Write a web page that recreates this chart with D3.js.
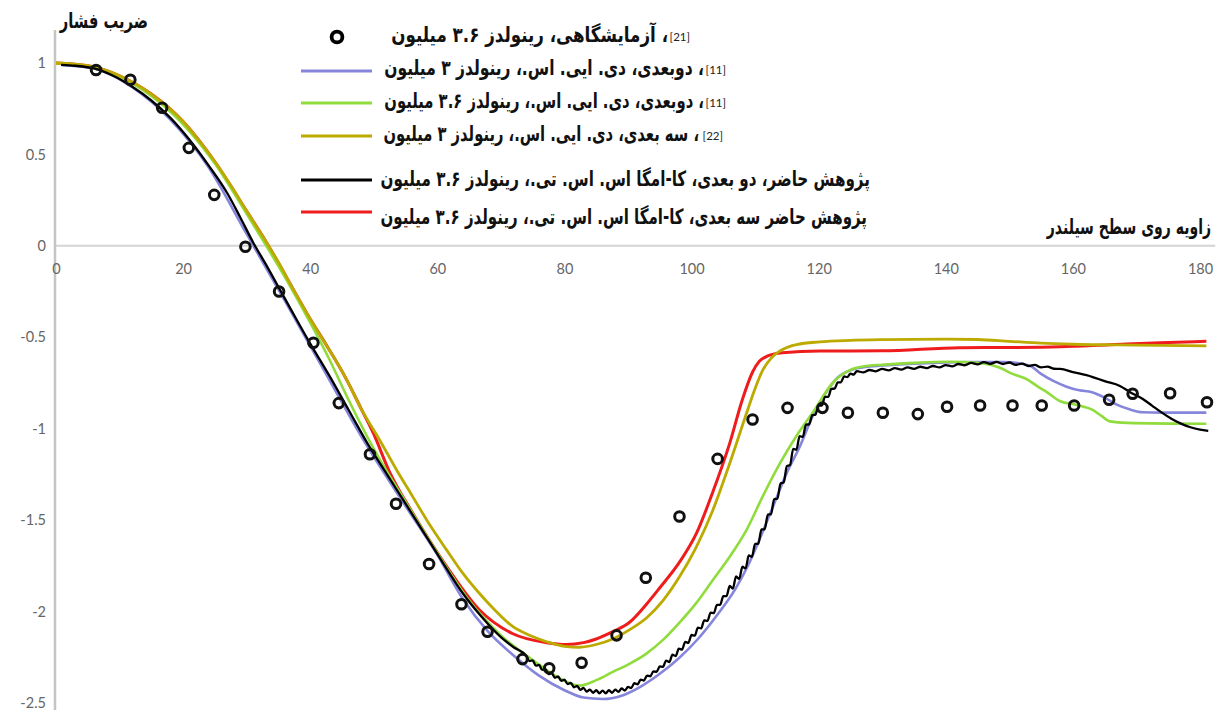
<!DOCTYPE html>
<html><head><meta charset="utf-8">
<script src="https://cdn.jsdelivr.net/npm/d3@7"></script>
<style>body{margin:0;background:#fff}svg{display:block}</style>
</head><body>
<svg id="c" width="1222" height="713"></svg>
<script>
// ---------------- data ----------------
const xTicks = [0, 20, 40, 60, 80, 100, 120, 140, 160, 180];
const yTicks = [1, 0.5, 0, -0.5, -1, -1.5, -2, -2.5];

const yTitle = "ضریب فشار";
const xTitle = "زاویه روی سطح سیلندر";

const legendRefs = ["[21]", "[11]", "[11]", "[22]", null, null];
const legendLabels = [
  "، آزمایشگاهی، رینولدز ۳.۶ میلیون",
  "، دوبعدی، دی. ایی. اس.، رینولدز ۳ میلیون",
  "، دوبعدی، دی. ایی. اس.، رینولدز ۳.۶ میلیون",
  " ، سه بعدی، دی. ایی. اس.، رینولدز ۳ میلیون",
  "پژوهش حاضر،  دو بعدی، کا-امگا اس. اس. تی.، رینولدز ۳.۶ میلیون",
  "پژوهش حاضر سه بعدی، کا-امگا اس. اس. تی.، رینولدز ۳.۶ میلیون"
];

// experiment (circles)
const expDeg = [6.3, 11.7, 16.7, 20.9, 24.9, 29.8, 35.1, 40.5, 44.5, 49.4, 53.5, 58.7, 63.8, 67.9, 73.4, 77.6, 82.7, 88.2, 92.8, 98.1, 104.1, 109.6, 115.1, 120.6, 124.6, 130.1, 135.6, 140.2, 145.4, 150.5, 155.1, 160.2, 165.7, 169.4, 175.3, 181.1];
const expCp = [0.962, 0.908, 0.755, 0.536, 0.279, -0.005, -0.25, -0.53, -0.86, -1.14, -1.41, -1.74, -1.96, -2.11, -2.26, -2.31, -2.28, -2.13, -1.815, -1.48, -1.165, -0.95, -0.886, -0.886, -0.913, -0.913, -0.92, -0.88, -0.873, -0.873, -0.873, -0.873, -0.842, -0.809, -0.806, -0.855];

// 2D DES Re 3M [11] (blue)
const blueCurve = [[0.8,0.99],[6,0.97],[12,0.868],[18,0.69],[24,0.43],[30,0.065],[36,-0.30],[42,-0.67],[48,-1.04],[54,-1.37],[60,-1.69],[64,-1.93],[68,-2.11],[72,-2.24],[76,-2.35],[80,-2.43],[83,-2.47],[86,-2.478],[89,-2.46],[92,-2.41],[95,-2.34],[98,-2.255],[101,-2.15],[104,-2.02],[107,-1.87],[109,-1.74],[111,-1.58],[113,-1.41],[115,-1.24],[117,-1.10],[119,-0.935],[121,-0.81],[123,-0.72],[125,-0.68],[128,-0.66],[132,-0.65],[138,-0.64],[144,-0.635],[149,-0.635],[152,-0.645],[153.5,-0.66],[155,-0.70],[157,-0.74],[159,-0.77],[161,-0.79],[163,-0.80],[165,-0.83],[167,-0.87],[169,-0.895],[171,-0.91],[174,-0.912],[181,-0.912]];

// 2D DES Re 3.6M [11] (green)
const greenCurve = [[0,1.0],[5,0.98],[10,0.925],[15,0.82],[20,0.665],[25,0.45],[30,0.175],[33,0.005],[36,-0.17],[40,-0.42],[43,-0.62],[46,-0.84],[50,-1.11],[55,-1.40],[60,-1.68],[65,-1.94],[70,-2.13],[75,-2.265],[79,-2.36],[82.4,-2.405],[85,-2.375],[87.6,-2.33],[90,-2.29],[92.9,-2.23],[95.5,-2.155],[98.1,-2.06],[100.7,-1.955],[103.3,-1.83],[106,-1.70],[108.7,-1.55],[111.2,-1.37],[113.9,-1.19],[116.5,-1.04],[119.1,-0.91],[122.2,-0.75],[124.9,-0.68],[127,-0.66],[130,-0.65],[135,-0.64],[140.6,-0.634],[145,-0.64],[147,-0.65],[148.5,-0.667],[150.5,-0.70],[152.8,-0.73],[154.5,-0.77],[155.9,-0.80],[158,-0.85],[160.6,-0.87],[163.1,-0.897],[164.5,-0.93],[165.8,-0.96],[168.5,-0.968],[181,-0.973]];

// 3D DES Re 3M [22] (olive)
const yellowCurve = [[0,1.0],[5,0.985],[10,0.93],[15,0.83],[20,0.68],[22.5,0.575],[25,0.46],[27.7,0.32],[30,0.19],[33.1,0.02],[35,-0.09],[37.2,-0.23],[40,-0.40],[42.5,-0.54],[45.7,-0.73],[48,-0.89],[50.9,-1.06],[53.5,-1.22],[56.1,-1.37],[58.7,-1.52],[61.4,-1.66],[64,-1.79],[66.6,-1.90],[69,-1.99],[71.8,-2.08],[74.5,-2.13],[77.2,-2.165],[80,-2.19],[82.4,-2.195],[85,-2.18],[87.6,-2.15],[90.2,-2.10],[92.9,-2.035],[95.5,-1.94],[98.1,-1.81],[100.7,-1.65],[103.3,-1.45],[106,-1.19],[108.7,-0.91],[110,-0.78],[111.2,-0.68],[112.5,-0.615],[113.9,-0.575],[116.5,-0.54],[120.2,-0.525],[125,-0.517],[130,-0.513],[140,-0.51],[145,-0.512],[150,-0.522],[155,-0.532],[160,-0.538],[170,-0.543],[181,-0.547]];

// present study 3D k-omega SST (red)
const redCurve = [[0,1.0],[5,0.985],[10,0.93],[15,0.83],[20,0.68],[25,0.46],[30,0.19],[33.1,0.02],[37.2,-0.23],[40,-0.40],[42.5,-0.54],[45.7,-0.73],[48,-0.89],[50,-1.03],[52.4,-1.23],[56.1,-1.46],[61.4,-1.75],[66.6,-1.99],[71.8,-2.12],[77.2,-2.17],[80.3,-2.18],[83,-2.17],[85,-2.15],[87.6,-2.11],[90.2,-2.06],[92.9,-1.96],[95,-1.87],[98.1,-1.73],[100.8,-1.57],[103.3,-1.35],[106,-1.08],[108,-0.84],[109.6,-0.69],[110.7,-0.63],[111.8,-0.605],[114.3,-0.585],[120.2,-0.575],[130,-0.574],[142.2,-0.557],[150,-0.556],[158,-0.552],[165.8,-0.541],[173.7,-0.53],[181,-0.522]];

// present study 2D k-omega SST (black, with its small oscillations)
const blackCurve = [[0.8,0.99],[3,0.985],[6,0.97],[9,0.93],[12,0.87],[15,0.795],[18,0.70],[21,0.58],[24,0.44],[27,0.285],[29,0.155],[31,0.02],[33,-0.10],[35,-0.225],[37,-0.35],[40,-0.535],[43,-0.71],[46,-0.895],[49,-1.08],[52,-1.245],[55,-1.41],[58,-1.575],[61,-1.74],[64,-1.90],[67,-2.03],[70,-2.14],[72,-2.195],
[74,-2.242],[74.5,-2.271],[75,-2.267],[75.5,-2.296],[76,-2.292],[76.5,-2.319],[77,-2.315],[77.5,-2.342],[78,-2.337],[78.5,-2.362],[79,-2.355],[79.5,-2.379],[80,-2.372],[80.5,-2.397],[81,-2.390],[81.5,-2.414],[82,-2.407],[82.5,-2.428],[83,-2.417],[83.5,-2.438],[84,-2.427],[84.5,-2.444],[85,-2.430],[85.5,-2.447],[86,-2.432],[86.5,-2.447],[87,-2.430],[87.5,-2.444],[88,-2.427],[88.5,-2.439],[89,-2.420],[89.5,-2.432],[90,-2.412],[90.5,-2.418],[91,-2.392],[91.5,-2.398],[92,-2.372],[92.5,-2.377],[93,-2.350],[93.5,-2.354],[94,-2.327],[94.5,-2.329],[95,-2.300],[95.5,-2.302],[96,-2.268],[96.5,-2.276],[97,-2.236],[97.5,-2.243],[98,-2.203],[98.5,-2.208],[99,-2.166],[99.5,-2.171],[100,-2.128],[100.5,-2.132],[101,-2.088],[101.5,-2.092],[102,-2.048],[102.5,-2.051],[103,-2.006],[103.5,-2.008],[104,-1.963],[104.5,-1.963],[105,-1.916],[105.5,-1.916],[106,-1.860],[106.5,-1.874],[107,-1.808],[107.5,-1.821],[108,-1.755],[108.5,-1.764],[109,-1.693],[109.5,-1.701],[110,-1.630],[110.5,-1.630],[111,-1.550],[111.5,-1.550],[112,-1.470],[112.5,-1.468],[113,-1.385],[113.5,-1.383],[114,-1.300],[114.5,-1.293],[115,-1.205],[115.5,-1.198],[116,-1.110],[116.5,-1.115],[117,-1.040],[117.5,-1.045],[118,-0.978],[118.5,-0.976],[119,-0.926],[119.5,-0.923],[120,-0.873],[120.5,-0.873],[121,-0.826],[121.5,-0.826],[122,-0.782],[122.5,-0.781],[123,-0.747],[123.5,-0.746],[124,-0.714],[124.5,-0.718],[125,-0.699],[125.5,-0.704],[126,-0.685],
[127,-0.692],[128,-0.679],[129,-0.686],[130,-0.673],[131,-0.681],[132,-0.669],[133,-0.677],[134,-0.665],[135,-0.673],[136,-0.661],[137,-0.669],[138,-0.657],[139,-0.665],[140,-0.652],[141,-0.659],[142,-0.646],[143,-0.653],[144,-0.640],[145,-0.648],[146,-0.636],[147,-0.645],[148,-0.635],[149,-0.646],[150,-0.638],[151,-0.651],[152,-0.644],[153,-0.657],[154,-0.651],[155,-0.665],[156,-0.660],[157,-0.672],[158,-0.673],
[160,-0.69],[163,-0.716],[165,-0.74],[167.4,-0.766],[169,-0.80],[171,-0.837],[172.5,-0.875],[174,-0.912],[175.5,-0.945],[177,-0.972],[178.5,-0.992],[180,-1.005],[181.3,-1.012]];

// ---------------- layout ----------------
const svg = d3.select("#c");
const x = d3.scaleLinear().domain([0, 180]).range([56, 1200]);
const y = d3.scaleLinear().domain([-2.5, 1]).range([703, 63]);
const xAxisEnd = 182.4;

// axis lines
svg.append("line").attr("x1", x(0) - 1).attr("x2", x(xAxisEnd)).attr("y1", y(0)).attr("y2", y(0))
  .attr("stroke", "#d4d4d4").attr("stroke-width", 2);
svg.append("line").attr("x1", x(0) - 1).attr("x2", x(0) - 1).attr("y1", 30).attr("y2", 710)
  .attr("stroke", "#c4c4c4").attr("stroke-width", 2.5);

const tickFont = "Lato, 'Liberation Sans', sans-serif";
const gx = svg.append("g").attr("transform", `translate(0,${y(0)})`)
  .call(d3.axisBottom(x).tickValues(xTicks).tickSize(0).tickPadding(18).tickFormat(d => String(d)));
const gy = svg.append("g").attr("transform", `translate(${x(0) - 1},0)`)
  .call(d3.axisLeft(y).tickValues(yTicks).tickSize(0).tickPadding(9).tickFormat(d => String(d)));
[gx, gy].forEach(g => {
  g.select(".domain").remove();
  g.selectAll("text").attr("font-family", tickFont).attr("font-size", 14.5).attr("fill", "#666");
});

// curves
const line = d3.line().x(d => x(d[0])).y(d => y(d[1])).curve(d3.curveMonotoneX);
const series = [
  {data: blueCurve, color: "#8585dc", w: 2.6},
  {data: redCurve, color: "#ee1c1c", w: 3},
  {data: greenCurve, color: "#8fdc3c", w: 2.6},
  {data: yellowCurve, color: "#bcaa00", w: 2.8},
  {data: blackCurve, color: "#000000", w: 2.3}
];
series.forEach(s => {
  svg.append("path").attr("d", line(s.data)).attr("fill", "none")
    .attr("stroke", s.color).attr("stroke-width", s.w).attr("stroke-linejoin", "round");
});

// experimental circles
svg.append("g").selectAll("circle").data(expDeg).join("circle")
  .attr("cx", d => x(d)).attr("cy", (d, i) => y(expCp[i])).attr("r", 4.8)
  .attr("fill", "none").attr("stroke", "#111").attr("stroke-width", 3);

// titles
const faFont = "'DejaVu Sans', sans-serif";
function fitText(str, x0, x1, cy, size, weight) {
  const t = svg.append("text").attr("x", 0).attr("y", cy).attr("dy", "0.35em")
    .attr("direction", "rtl").attr("font-family", faFont).attr("font-size", size)
    .attr("font-weight", weight).attr("fill", "#111").text(str);
  const bb = t.node().getBBox();
  const sx = (x1 - x0) / bb.width;
  t.attr("transform", `translate(${x0 - bb.x * sx},0) scale(${sx},1)`);
  return t;
}
fitText(yTitle, 59, 148, 21, 21, "bold");
fitText(xTitle, 1046, 1211, 227, 21, "bold");

// legend
const legendColors = [null, "#8585dc", "#8fdc3c", "#bcaa00", "#000000", "#ee1c1c"];
const legendRowY = [35, 68, 101, 134, 179, 217];
const legendLineY = [37, 71, 103, 136, 180, 212];
const legendSpan = [[391, 668], [384, 704], [384, 704], [383, 699], [380, 870], [380, 867]];
const refRight = [690, 726, 726, 723];
legendLabels.forEach((lab, i) => {
  if (legendColors[i] === null) {
    svg.append("circle").attr("cx", 337).attr("cy", legendLineY[i]).attr("r", 5.4)
      .attr("fill", "none").attr("stroke", "#000").attr("stroke-width", 3.8);
  } else {
    svg.append("line").attr("x1", 301).attr("x2", 372).attr("y1", legendLineY[i]).attr("y2", legendLineY[i])
      .attr("stroke", legendColors[i]).attr("stroke-width", 3);
  }
  fitText(lab, legendSpan[i][0], legendSpan[i][1], legendRowY[i], 21, "bold");
  if (legendRefs[i]) {
    svg.append("text").attr("x", refRight[i]).attr("y", legendRowY[i] + 2).attr("dy", "0.35em")
      .attr("text-anchor", "end").attr("font-family", tickFont).attr("font-size", 11.5)
      .attr("fill", "#222").text(legendRefs[i]);
  }
});
</script>
</body></html>
